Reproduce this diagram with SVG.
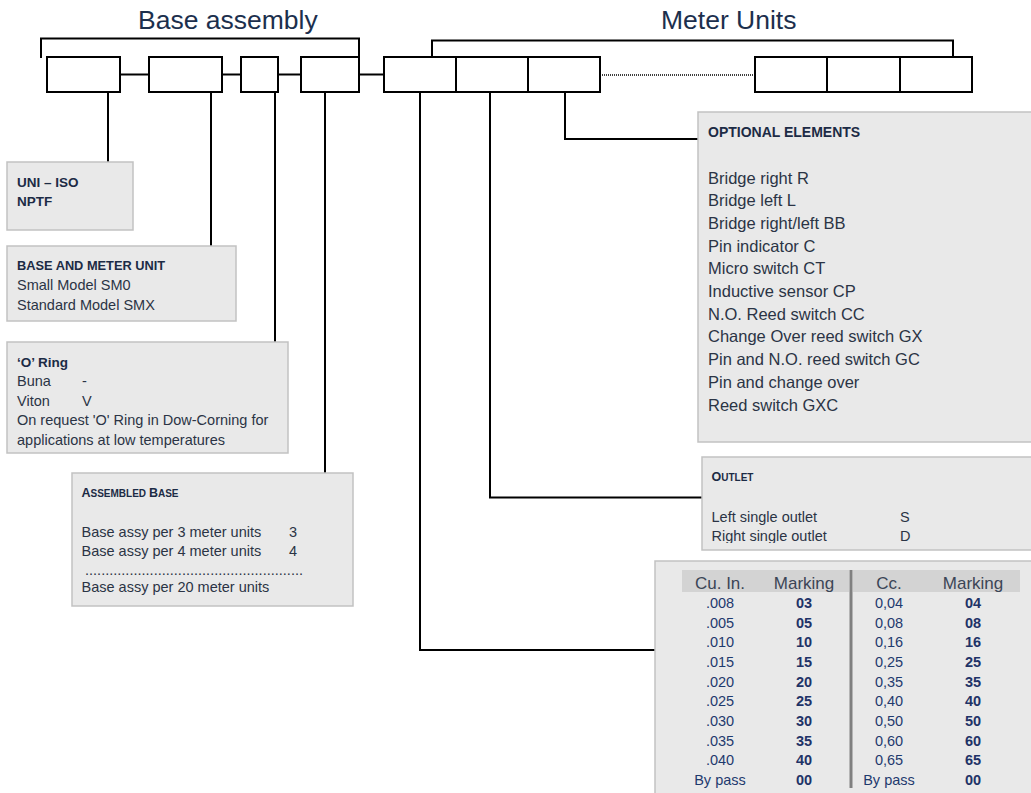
<svg xmlns="http://www.w3.org/2000/svg" width="1031" height="793" viewBox="0 0 1031 793">
<style>
.unit{fill:#fff;stroke:#000;stroke-width:2}
.br{fill:none;stroke:#000;stroke-width:2}
.con{fill:none;stroke:#000;stroke-width:2}
.panel{fill:#e9e9e9;stroke:#c2c2c2;stroke-width:1.5}
.title{font-family:"Liberation Sans",Arial,sans-serif;font-size:26.5px;fill:#1c2f4d}
.h{font-family:"Liberation Sans",Arial,sans-serif;font-weight:bold;font-size:13px;fill:#1c2b45}
.t{font-family:"Liberation Sans",Arial,sans-serif;font-size:14.5px;fill:#2b3445}
.o{font-family:"Liberation Sans",Arial,sans-serif;font-size:16.5px;fill:#2b3445}
.th{font-family:"Liberation Sans",Arial,sans-serif;font-size:17px;fill:#3b4556;text-anchor:middle}
.tv{font-family:"Liberation Sans",Arial,sans-serif;font-size:14.5px;fill:#1f3a6e;text-anchor:middle}
.tb{font-family:"Liberation Sans",Arial,sans-serif;font-size:14.5px;font-weight:bold;fill:#1f3367;text-anchor:middle}
</style>
<defs>
<clipPath id="clipOutlet"><rect x="702" y="457" width="340" height="86"/></clipPath>
</defs>
<g id="titles">
<text class="title" x="138" y="29">Base assembly</text>
<text class="title" x="661" y="29">Meter Units</text>
</g>
<g id="brackets">
<path class="br" d="M41,58 V38.5 H359 V57"/>
<path class="br" d="M432,57 V40.5 H953 V57"/>
</g>
<g id="connectors">
<line class="con" x1="120" y1="74.5" x2="149" y2="74.5"/>
<line class="con" x1="222" y1="74.5" x2="241" y2="74.5"/>
<line class="con" x1="278" y1="74.5" x2="301" y2="74.5"/>
<line class="con" x1="359" y1="74.5" x2="384" y2="74.5"/>
<line x1="600" y1="75" x2="755" y2="75" stroke="#000" stroke-width="1.5" stroke-dasharray="1,1"/>
<line class="con" x1="108" y1="92" x2="108" y2="162"/>
<line class="con" x1="211" y1="92" x2="211" y2="246"/>
<line class="con" x1="275" y1="92" x2="275" y2="342"/>
<line class="con" x1="325" y1="92" x2="325" y2="473"/>
<polyline class="con" points="420,92 420,650 655,650"/>
<polyline class="con" points="490,92 490,497.5 702,497.5"/>
<polyline class="con" points="565,92 565,139 698,139"/>
</g>
<g id="base-units">
<rect class="unit" x="47" y="57" width="73" height="35"/>
<rect class="unit" x="149" y="57" width="73" height="35"/>
<rect class="unit" x="241" y="57" width="37" height="35"/>
<rect class="unit" x="301" y="57" width="58" height="35"/>
</g>
<g id="meter-units">
<rect class="unit" x="384" y="57" width="72" height="35"/>
<rect class="unit" x="456" y="57" width="72" height="35"/>
<rect class="unit" x="528" y="57" width="72" height="35"/>
<rect class="unit" x="755" y="57" width="72" height="35"/>
<rect class="unit" x="827" y="57" width="73" height="35"/>
<rect class="unit" x="900" y="57" width="72" height="35"/>
</g>
<g id="thread">
<rect class="panel" x="7" y="162" width="126" height="68"/>
<text class="h" x="17" y="187" style="font-size:13.5px">UNI – ISO</text>
<text class="h" x="17" y="206" style="font-size:13.5px">NPTF</text>
</g>
<g id="base-meter-unit">
<rect class="panel" x="7" y="246" width="229" height="75"/>
<text class="h" x="17" y="270" style="font-size:12.8px">BASE AND METER UNIT</text>
<text class="t" x="17" y="290">Small Model SM0</text>
<text class="t" x="17" y="309.5">Standard Model SMX</text>
</g>
<g id="o-ring">
<rect class="panel" x="7" y="342" width="281" height="111"/>
<text class="h" x="17" y="367" style="font-size:13.5px">‘O’ Ring</text>
<text class="t" x="17" y="386">Buna</text>
<text class="t" x="82" y="386">-</text>
<text class="t" x="17" y="405.5">Viton</text>
<text class="t" x="82" y="405.5">V</text>
<text class="t" x="17" y="425">On request 'O' Ring in Dow-Corning for</text>
<text class="t" x="17" y="444.5">applications at low temperatures</text>
</g>
<g id="assembled-base">
<rect class="panel" x="72" y="473" width="281" height="133"/>
<text class="h" x="81.5" y="497" style="font-size:12.5px">A<tspan style="font-size:10px">SSEMBLED </tspan>B<tspan style="font-size:10px">ASE</tspan></text>
<text class="t" x="81.5" y="537">Base assy per 3 meter units</text>
<text class="t" x="289" y="537">3</text>
<text class="t" x="81.5" y="556">Base assy per 4 meter units</text>
<text class="t" x="289" y="556">4</text>
<text class="t" x="85" y="575" textLength="218" lengthAdjust="spacing">......................................................</text>
<text class="t" x="81.5" y="591.5">Base assy per 20 meter units</text>
</g>
<g id="optional-elements">
<rect class="panel" x="698" y="112" width="340" height="330"/>
<text class="h" x="708" y="137" style="font-size:14px">OPTIONAL ELEMENTS</text>
<text class="o" x="708" y="183.5">Bridge right R</text>
<text class="o" x="708" y="206.2">Bridge left L</text>
<text class="o" x="708" y="228.9">Bridge right/left BB</text>
<text class="o" x="708" y="251.6">Pin indicator C</text>
<text class="o" x="708" y="274.3">Micro switch CT</text>
<text class="o" x="708" y="297">Inductive sensor CP</text>
<text class="o" x="708" y="319.7">N.O. Reed switch CC</text>
<text class="o" x="708" y="342.4">Change Over reed switch GX</text>
<text class="o" x="708" y="365.1">Pin and N.O. reed switch GC</text>
<text class="o" x="708" y="387.8">Pin and change over</text>
<text class="o" x="708" y="410.5">Reed switch GXC</text>
</g>
<g id="outlet">
<rect class="panel" x="702" y="457" width="340" height="93"/>
<text class="h" x="711.5" y="481" style="font-size:12.5px">O<tspan style="font-size:10px">UTLET</tspan></text>
<g clip-path="url(#clipOutlet)">
<text class="t" x="711.5" y="521.5">Left single outlet</text>
<text class="t" x="900" y="521.5">S</text>
<text class="t" x="711.5" y="540.5">Right single outlet</text>
<text class="t" x="900" y="540.5">D</text>
</g>
</g>
<g id="capacity-table">
<rect class="panel" x="655" y="561" width="390" height="240"/>
<rect x="682" y="570" width="167" height="22" fill="#d3d3d3"/>
<rect x="853" y="570" width="167" height="22" fill="#d3d3d3"/>
<line x1="851" y1="570" x2="851" y2="788" stroke="#808080" stroke-width="3"/>
<text class="th" x="720" y="588.5">Cu. In.</text>
<text class="th" x="804" y="588.5">Marking</text>
<text class="th" x="889" y="588.5">Cc.</text>
<text class="th" x="973" y="588.5">Marking</text>
<text class="tv" x="720" y="608">.008</text><text class="tb" x="804" y="608">03</text><text class="tv" x="889" y="608">0,04</text><text class="tb" x="973" y="608">04</text>
<text class="tv" x="720" y="627.6">.005</text><text class="tb" x="804" y="627.6">05</text><text class="tv" x="889" y="627.6">0,08</text><text class="tb" x="973" y="627.6">08</text>
<text class="tv" x="720" y="647.3">.010</text><text class="tb" x="804" y="647.3">10</text><text class="tv" x="889" y="647.3">0,16</text><text class="tb" x="973" y="647.3">16</text>
<text class="tv" x="720" y="666.9">.015</text><text class="tb" x="804" y="666.9">15</text><text class="tv" x="889" y="666.9">0,25</text><text class="tb" x="973" y="666.9">25</text>
<text class="tv" x="720" y="686.6">.020</text><text class="tb" x="804" y="686.6">20</text><text class="tv" x="889" y="686.6">0,35</text><text class="tb" x="973" y="686.6">35</text>
<text class="tv" x="720" y="706.2">.025</text><text class="tb" x="804" y="706.2">25</text><text class="tv" x="889" y="706.2">0,40</text><text class="tb" x="973" y="706.2">40</text>
<text class="tv" x="720" y="725.8">.030</text><text class="tb" x="804" y="725.8">30</text><text class="tv" x="889" y="725.8">0,50</text><text class="tb" x="973" y="725.8">50</text>
<text class="tv" x="720" y="745.5">.035</text><text class="tb" x="804" y="745.5">35</text><text class="tv" x="889" y="745.5">0,60</text><text class="tb" x="973" y="745.5">60</text>
<text class="tv" x="720" y="765.1">.040</text><text class="tb" x="804" y="765.1">40</text><text class="tv" x="889" y="765.1">0,65</text><text class="tb" x="973" y="765.1">65</text>
<text class="tv" x="720" y="784.8">By pass</text><text class="tb" x="804" y="784.8">00</text><text class="tv" x="889" y="784.8">By pass</text><text class="tb" x="973" y="784.8">00</text>
</g>
</svg>
